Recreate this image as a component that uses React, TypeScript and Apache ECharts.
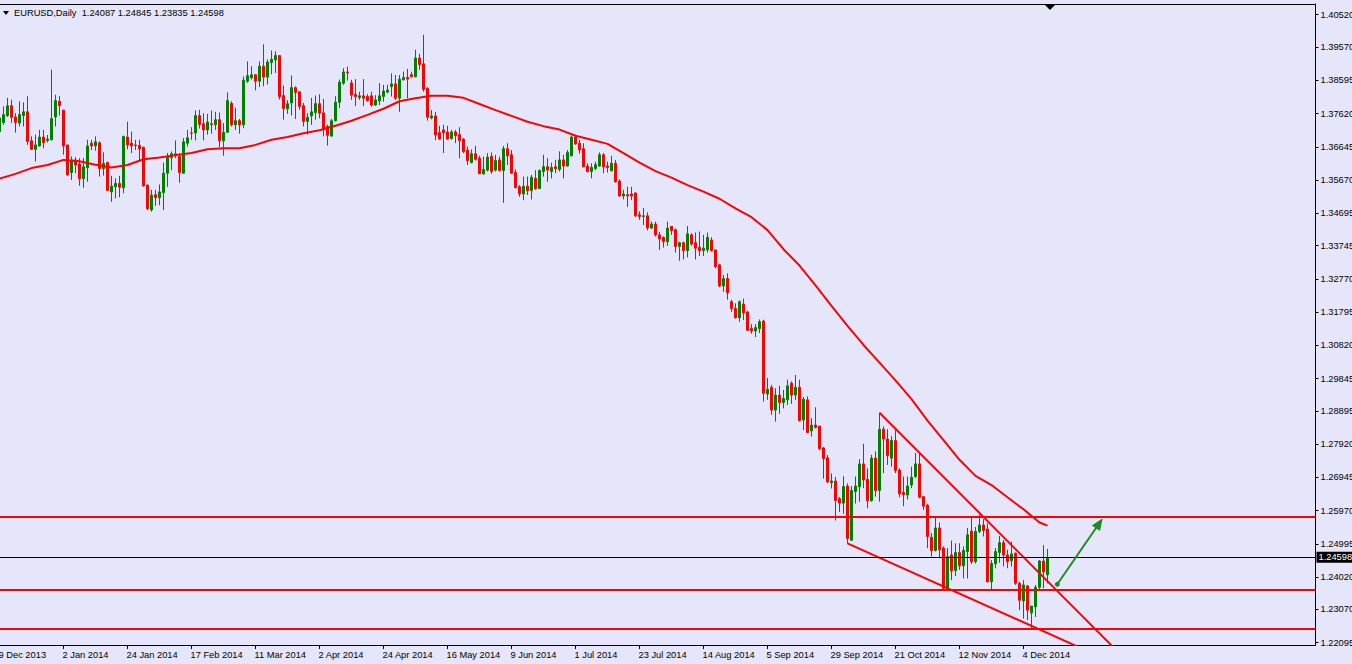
import React, { useEffect, useRef } from "react";
import * as echarts from "echarts";

const FONT = '"Liberation Sans", Arial, sans-serif';
const FONT_SIZE = 9.3;
const SYMBOL = "EURUSD";
const TIMEFRAME = "Daily";

// one label every 16 daily bars, starting at bar 0
const tickLabels = [
  "9 Dec 2013", "2 Jan 2014", "24 Jan 2014", "17 Feb 2014", "11 Mar 2014", "2 Apr 2014",
  "24 Apr 2014", "16 May 2014", "9 Jun 2014", "1 Jul 2014", "23 Jul 2014", "14 Aug 2014",
  "5 Sep 2014", "29 Sep 2014", "21 Oct 2014", "12 Nov 2014", "4 Dec 2014",
];
const LABEL_EVERY = 16;
const TOTAL_SLOTS = 330; // bars + empty chart-shift space on the right

const priceTicks = [
  1.22095, 1.2307, 1.2402, 1.24995, 1.2597, 1.26945, 1.2792, 1.28895, 1.29845, 1.3082,
  1.31795, 1.3277, 1.33745, 1.34695, 1.3567, 1.36645, 1.3762, 1.38595, 1.3957, 1.4052,
];
const Y_MIN = 1.22027;
const Y_MAX = 1.40834;

const opens = [
  1.3709, 1.3736, 1.3756, 1.3785, 1.3752, 1.3734, 1.3756, 1.3767, 1.3682, 1.3657,
  1.3667, 1.3693, 1.3683, 1.3685, 1.3752, 1.3798, 1.3772, 1.367, 1.3589, 1.3626,
  1.3614, 1.3571, 1.3603, 1.3675, 1.3667, 1.3676, 1.36, 1.3618, 1.3532, 1.3547,
  1.3557, 1.3544, 1.3693, 1.3675, 1.367, 1.3669, 1.3663, 1.3552, 1.3479, 1.3524,
  1.3515, 1.353, 1.3587, 1.3632, 1.3644, 1.3636, 1.3587, 1.3675, 1.3705, 1.3705,
  1.3756, 1.3732, 1.3714, 1.3732, 1.3729, 1.3744, 1.3682, 1.3707, 1.3792, 1.3729,
  1.3741, 1.3729, 1.3857, 1.3867, 1.3876, 1.3857, 1.3901, 1.3869, 1.3912, 1.3919,
  1.3932, 1.3815, 1.3776, 1.3793, 1.3838, 1.3826, 1.3785, 1.3739, 1.3755, 1.3765,
  1.3791, 1.3764, 1.3724, 1.3696, 1.3741, 1.3795, 1.3851, 1.3884, 1.3852, 1.3818,
  1.3809, 1.3814, 1.3812, 1.3814, 1.3787, 1.3799, 1.3812, 1.3825, 1.3841, 1.3849,
  1.3807, 1.3861, 1.3868, 1.3876, 1.387, 1.3925, 1.3908, 1.3836, 1.3749, 1.3755,
  1.3706, 1.3714, 1.3708, 1.3689, 1.3708, 1.37, 1.3687, 1.3655, 1.3618, 1.3644,
  1.3631, 1.3585, 1.3596, 1.3636, 1.3596, 1.3626, 1.3595, 1.3659, 1.3641, 1.3589,
  1.3547, 1.3526, 1.3549, 1.3536, 1.3572, 1.3542, 1.3592, 1.3606, 1.3592, 1.3606,
  1.3598, 1.3626, 1.3608, 1.3638, 1.3693, 1.3675, 1.3659, 1.3608, 1.3592, 1.3601,
  1.3608, 1.3641, 1.3608, 1.3594, 1.3616, 1.3564, 1.352, 1.3524, 1.3526, 1.3529,
  1.3465, 1.346, 1.3462, 1.3426, 1.3438, 1.3406, 1.3399, 1.3386, 1.3431, 1.3421,
  1.3372, 1.3383, 1.336, 1.3406, 1.3383, 1.337, 1.336, 1.3362, 1.3391, 1.3362,
  1.3318, 1.3256, 1.3278, 1.321, 1.319, 1.3163, 1.3203, 1.318, 1.3131, 1.3124,
  1.3131, 1.3153, 1.2939, 1.2959, 1.2892, 1.2936, 1.2914, 1.2922, 1.2971, 1.2936,
  1.2959, 1.2863, 1.2922, 1.2831, 1.2848, 1.2845, 1.2781, 1.2752, 1.2679, 1.2684,
  1.2632, 1.2619, 1.2669, 1.251, 1.2653, 1.2667, 1.2734, 1.2689, 1.2626, 1.2751,
  1.2656, 1.2836, 1.2807, 1.2751, 1.2803, 1.2716, 1.265, 1.2643, 1.2672, 1.2697,
  1.2734, 1.2638, 1.2613, 1.2519, 1.248, 1.2546, 1.2487, 1.2369, 1.2467, 1.2421,
  1.2474, 1.2435, 1.2477, 1.2537, 1.2447, 1.2536, 1.2555, 1.2543, 1.2388, 1.2441,
  1.2474, 1.2503, 1.2467, 1.245, 1.2472, 1.2384, 1.2332, 1.2376, 1.2297, 1.2315,
  1.2372, 1.2449, 1.24087,
];
const highs = [
  1.3759, 1.3783, 1.3808, 1.3803, 1.3763, 1.3798, 1.3795, 1.3813, 1.3695, 1.37,
  1.3714, 1.3714, 1.3699, 1.3891, 1.3817, 1.3813, 1.3773, 1.367, 1.3636, 1.3634,
  1.3631, 1.3631, 1.3685, 1.3685, 1.3695, 1.368, 1.3648, 1.3621, 1.3579, 1.3572,
  1.3579, 1.3697, 1.3738, 1.3709, 1.3685, 1.3685, 1.3665, 1.3554, 1.3538, 1.3538,
  1.3554, 1.3618, 1.3646, 1.3651, 1.3683, 1.3646, 1.369, 1.3714, 1.3722, 1.3771,
  1.3773, 1.3763, 1.3761, 1.3771, 1.3767, 1.3765, 1.3734, 1.3824, 1.3798, 1.3779,
  1.3746, 1.3871, 1.3915, 1.3901, 1.3877, 1.3915, 1.3965, 1.3921, 1.3947, 1.3945,
  1.3932, 1.3844, 1.3801, 1.3874, 1.3842, 1.3826, 1.3793, 1.3763, 1.3808, 1.3815,
  1.3819, 1.3805, 1.3729, 1.3746, 1.3813, 1.3862, 1.3895, 1.39, 1.3861, 1.3863,
  1.3826, 1.3863, 1.3819, 1.3826, 1.3816, 1.3851, 1.3846, 1.3846, 1.388, 1.3875,
  1.3875, 1.3885, 1.3893, 1.3885, 1.3949, 1.3937, 1.3993, 1.3839, 1.3772, 1.3767,
  1.3726, 1.3729, 1.3726, 1.3714, 1.3714, 1.3722, 1.369, 1.3665, 1.3657, 1.3667,
  1.3638, 1.3636, 1.3646, 1.3648, 1.3641, 1.3636, 1.3667, 1.3675, 1.3655, 1.3598,
  1.3552, 1.3577, 1.3577, 1.3582, 1.3596, 1.3598, 1.3641, 1.3631, 1.3618, 1.3626,
  1.3651, 1.3641, 1.3655, 1.3697, 1.37, 1.3685, 1.3675, 1.3616, 1.3616, 1.3621,
  1.3648, 1.3646, 1.3621, 1.3638, 1.3626, 1.3569, 1.3538, 1.3547, 1.3547, 1.3531,
  1.3475, 1.3485, 1.3472, 1.3445, 1.3445, 1.3415, 1.3401, 1.3445, 1.3432, 1.3425,
  1.3386, 1.3386, 1.3432, 1.3411, 1.3413, 1.3416, 1.3406, 1.3413, 1.3399, 1.3362,
  1.332, 1.3288, 1.3293, 1.3216, 1.3205, 1.3214, 1.3219, 1.3183, 1.3144, 1.3144,
  1.3158, 1.3157, 1.2986, 1.2966, 1.2956, 1.2963, 1.2951, 1.2981, 1.2976, 1.2995,
  1.2981, 1.293, 1.2932, 1.2868, 1.29, 1.2845, 1.2784, 1.276, 1.2706, 1.2696,
  1.2637, 1.2698, 1.2677, 1.2669, 1.2697, 1.2748, 1.2793, 1.2721, 1.2761, 1.2771,
  1.2884, 1.2844, 1.2836, 1.2815, 1.2839, 1.2721, 1.2697, 1.2697, 1.2726, 1.2766,
  1.2766, 1.264, 1.2617, 1.2531, 1.2578, 1.2562, 1.2492, 1.2487, 1.2509, 1.2501,
  1.2501, 1.2492, 1.2546, 1.2575, 1.2549, 1.2585, 1.2572, 1.256, 1.2452, 1.2487,
  1.2523, 1.2511, 1.2482, 1.2506, 1.2474, 1.2388, 1.2393, 1.2379, 1.2317, 1.2379,
  1.2452, 1.2496, 1.24845,
];
const lows = [
  1.3704, 1.3729, 1.3752, 1.3734, 1.3706, 1.3724, 1.3724, 1.367, 1.3655, 1.3621,
  1.3665, 1.366, 1.3677, 1.3683, 1.3724, 1.3756, 1.3641, 1.358, 1.3567, 1.3587,
  1.355, 1.3544, 1.3562, 1.3655, 1.3653, 1.3577, 1.358, 1.3535, 1.3503, 1.3513,
  1.3516, 1.3528, 1.3657, 1.3646, 1.3655, 1.3624, 1.3547, 1.3479, 1.3474, 1.3491,
  1.3493, 1.3479, 1.3547, 1.3596, 1.3631, 1.3559, 1.3585, 1.3665, 1.3685, 1.3683,
  1.3718, 1.3683, 1.37, 1.3703, 1.3714, 1.3663, 1.3638, 1.3705, 1.3724, 1.3714,
  1.3703, 1.3719, 1.3852, 1.3862, 1.383, 1.384, 1.3842, 1.3847, 1.3877, 1.3881,
  1.3803, 1.3744, 1.3761, 1.3756, 1.3746, 1.3773, 1.3724, 1.37, 1.3729, 1.3744,
  1.3748, 1.3695, 1.3668, 1.3693, 1.3739, 1.3778, 1.3846, 1.3859, 1.3802, 1.3784,
  1.3802, 1.3784, 1.3797, 1.3782, 1.3784, 1.3787, 1.3797, 1.3821, 1.3812, 1.3802,
  1.3767, 1.3859, 1.3807, 1.3868, 1.3868, 1.389, 1.3826, 1.3741, 1.3745, 1.3684,
  1.3685, 1.3646, 1.3685, 1.3685, 1.3675, 1.3631, 1.3646, 1.3611, 1.3616, 1.3624,
  1.3585, 1.3582, 1.3592, 1.3585, 1.3592, 1.3592, 1.35, 1.3611, 1.3585, 1.3542,
  1.3518, 1.3508, 1.3523, 1.351, 1.3538, 1.354, 1.3577, 1.3562, 1.3572, 1.3587,
  1.3592, 1.3572, 1.3606, 1.3636, 1.367, 1.3644, 1.3604, 1.3589, 1.3572, 1.3596,
  1.3606, 1.3587, 1.3589, 1.3592, 1.3559, 1.3518, 1.351, 1.3488, 1.3508, 1.3458,
  1.345, 1.3435, 1.3419, 1.3423, 1.3401, 1.3362, 1.3369, 1.3374, 1.3406, 1.3354,
  1.333, 1.3334, 1.334, 1.3374, 1.3334, 1.3344, 1.3344, 1.3354, 1.3357, 1.3308,
  1.3252, 1.3239, 1.3216, 1.318, 1.316, 1.3151, 1.3156, 1.3124, 1.3116, 1.3106,
  1.3118, 1.2917, 1.2922, 1.2878, 1.2858, 1.2881, 1.2897, 1.2907, 1.291, 1.2922,
  1.2858, 1.2833, 1.2824, 1.2814, 1.2838, 1.2774, 1.2691, 1.2678, 1.2662, 1.2568,
  1.2593, 1.2588, 1.25, 1.2508, 1.2618, 1.2623, 1.2663, 1.2604, 1.2623, 1.2638,
  1.2623, 1.2707, 1.2731, 1.2726, 1.2707, 1.2636, 1.261, 1.263, 1.2663, 1.2692,
  1.2633, 1.2599, 1.2487, 1.2462, 1.2477, 1.2457, 1.2366, 1.2364, 1.2393, 1.2405,
  1.2423, 1.2398, 1.2398, 1.244, 1.2442, 1.2531, 1.2521, 1.2386, 1.2364, 1.2428,
  1.2444, 1.2433, 1.2428, 1.2433, 1.2379, 1.2305, 1.228, 1.2276, 1.2251, 1.2285,
  1.2366, 1.2369, 1.23835,
];
const closes = [
  1.3749, 1.3759, 1.3785, 1.3751, 1.3736, 1.3759, 1.3767, 1.368, 1.3657, 1.367,
  1.3693, 1.3677, 1.3687, 1.3747, 1.38, 1.3785, 1.3667, 1.3582, 1.3626, 1.3611,
  1.3571, 1.3606, 1.3667, 1.3667, 1.3679, 1.3601, 1.3616, 1.3536, 1.3549, 1.3557,
  1.3546, 1.3695, 1.367, 1.3667, 1.3668, 1.3658, 1.355, 1.3483, 1.3523, 1.3515,
  1.3532, 1.3587, 1.3636, 1.3644, 1.3638, 1.3589, 1.3679, 1.3691, 1.3704, 1.3756,
  1.373, 1.3714, 1.3737, 1.373, 1.3744, 1.3682, 1.3707, 1.38, 1.3729, 1.3741,
  1.3729, 1.386, 1.3873, 1.3876, 1.3857, 1.3901, 1.3869, 1.3913, 1.3921, 1.3932,
  1.3811, 1.3777, 1.3791, 1.3838, 1.3824, 1.3783, 1.3739, 1.3751, 1.3767, 1.3791,
  1.3763, 1.3716, 1.3698, 1.3741, 1.3795, 1.3854, 1.3884, 1.3882, 1.3816, 1.3812,
  1.3814, 1.3807, 1.38, 1.3787, 1.3802, 1.3814, 1.3828, 1.3831, 1.3849, 1.3807,
  1.3863, 1.3868, 1.3863, 1.387, 1.3925, 1.3906, 1.3833, 1.3751, 1.3755, 1.3699,
  1.3687, 1.3706, 1.3687, 1.3708, 1.3697, 1.3683, 1.365, 1.3624, 1.3644, 1.3628,
  1.3585, 1.3598, 1.3634, 1.3592, 1.3624, 1.3595, 1.3659, 1.3638, 1.3587, 1.3545,
  1.3526, 1.3549, 1.3536, 1.3575, 1.3542, 1.3595, 1.3606, 1.3596, 1.3604, 1.36,
  1.3626, 1.3608, 1.3648, 1.3693, 1.3673, 1.3655, 1.3606, 1.3592, 1.3604, 1.3612,
  1.3641, 1.3606, 1.3604, 1.3616, 1.3562, 1.352, 1.3526, 1.352, 1.352, 1.3462,
  1.346, 1.3462, 1.3426, 1.3438, 1.3406, 1.3394, 1.3386, 1.3426, 1.3418, 1.3372,
  1.3383, 1.336, 1.3409, 1.3379, 1.3367, 1.336, 1.3367, 1.3399, 1.336, 1.3313,
  1.3256, 1.3278, 1.3236, 1.319, 1.3163, 1.321, 1.3177, 1.3126, 1.3124, 1.3134,
  1.3151, 1.2941, 1.2953, 1.2892, 1.2936, 1.2914, 1.2926, 1.2963, 1.2936, 1.2959,
  1.2861, 1.2924, 1.2826, 1.2848, 1.2841, 1.2779, 1.275, 1.2681, 1.2684, 1.2627,
  1.2619, 1.2668, 1.2515, 1.2656, 1.2669, 1.2734, 1.2687, 1.2626, 1.2751, 1.2656,
  1.2836, 1.2807, 1.2758, 1.2803, 1.2715, 1.2646, 1.2644, 1.2669, 1.2695, 1.2734,
  1.2636, 1.261, 1.2521, 1.248, 1.2546, 1.2482, 1.2369, 1.2462, 1.242, 1.2474,
  1.2435, 1.248, 1.2526, 1.2447, 1.2536, 1.2555, 1.2539, 1.2388, 1.2442, 1.2477,
  1.2503, 1.2467, 1.2447, 1.247, 1.2384, 1.2334, 1.2379, 1.2305, 1.2317, 1.2372,
  1.2449, 1.2417, 1.24598,
];

// moving average (bar index, price)
const maIndex = [
  0, 4, 8, 12, 16, 20, 24, 28, 32, 36, 40, 44, 48, 52, 56, 60, 64, 68, 72, 76, 80, 84, 88, 92,
  96, 100, 104, 108, 112, 116, 120, 124, 128, 132, 136, 140, 144, 148, 152, 156, 160, 164, 168,
  172, 176, 180, 184, 188, 192, 196, 200, 204, 208, 212, 216, 220, 224, 228, 232, 236, 240, 244,
  248, 252, 256, 260, 262,
];
const maValues = [
  1.3571, 1.3585, 1.3602, 1.3611, 1.3626, 1.3622, 1.3612, 1.3604, 1.3611, 1.3628, 1.3633, 1.364,
  1.3646, 1.3657, 1.366, 1.366, 1.367, 1.3685, 1.3693, 1.3704, 1.3713, 1.3726, 1.3741, 1.3758,
  1.3776, 1.3798, 1.3807, 1.3814, 1.3814, 1.3808, 1.379, 1.3772, 1.3755, 1.3738, 1.3725, 1.3715,
  1.3697, 1.3685, 1.3673, 1.3646, 1.3618, 1.3593, 1.3574, 1.3552, 1.3533, 1.3512, 1.3484, 1.3458,
  1.342, 1.3364, 1.3316, 1.3258, 1.3198, 1.3139, 1.3083, 1.3031, 1.2979, 1.2924, 1.2861, 1.2804,
  1.2746, 1.2699, 1.2672, 1.2636, 1.2601, 1.2562, 1.2553,
];

// drawn objects: horizontal levels, channel lines [bar, price], arrow
const levelLines = [1.2579, 1.2365, 1.225];
const upperChannel = [[220, 1.28843], [280, 1.2178]];
const lowerChannel = [[212, 1.25011], [280, 1.21428]];
const arrowFrom = [264.45, 1.23808];
const arrowTo = [274.95, 1.25598];

const BULL = "#008000";
const BEAR = "#FF0000";

export default function App() {
  const ref = useRef<HTMLDivElement>(null);

  useEffect(() => {
    if (!ref.current) return;
    const chart = echarts.init(ref.current, null, { renderer: "svg" });
    const last = opens.length - 1;
    const lastClose = closes[last];
    const slots = Array.from({ length: TOTAL_SLOTS }, (_, i) => String(i));
    const isLabelSlot = (i: number) => i % LABEL_EVERY === 0 && i / LABEL_EVERY < tickLabels.length;
    const candleData = opens.map((o, i) => [o, closes[i], lows[i], highs[i]]);
    const maData = maIndex.map((k, i) => [k, maValues[i]]);
    const header = `${SYMBOL},${TIMEFRAME}  ${opens[last].toFixed(5)} ${highs[last].toFixed(5)} ${lows[last].toFixed(5)} ${lastClose.toFixed(5)}`;

    const option: any = {
      animation: false,
      backgroundColor: "#E6E6FA",
      textStyle: { fontFamily: FONT },
      grid: {
        left: -0.5,
        right: 36.5,
        top: 4,
        bottom: 19,
        containLabel: false,
        outerBoundsMode: "none",
      },
      xAxis: [
        {
          type: "category",
          data: slots,
          boundaryGap: false,
          axisLine: { show: true, onZero: false, lineStyle: { color: "#000", width: 1 } },
          axisTick: {
            show: true,
            length: 4,
            interval: (i: number) => isLabelSlot(i),
            lineStyle: { color: "#000" },
          },
          axisLabel: {
            show: true,
            interval: (i: number) => isLabelSlot(i),
            formatter: (_v: string, i: number) => tickLabels[i / LABEL_EVERY] ?? "",
            align: "left",
            padding: [0, 0, 0, -1],
            margin: 5,
            color: "#000",
            fontSize: FONT_SIZE,
            fontFamily: FONT,
          },
          splitLine: { show: false },
        },
        {
          type: "value",
          min: 0,
          max: TOTAL_SLOTS - 1,
          show: false,
          splitLine: { show: false },
        },
      ],
      yAxis: {
        type: "value",
        position: "right",
        min: Y_MIN,
        max: Y_MAX,
        splitLine: { show: false },
        axisLine: { show: true, onZero: false, lineStyle: { color: "#000", width: 1 } },
        axisTick: { show: true, length: 3, customValues: priceTicks, lineStyle: { color: "#000" } },
        axisLabel: {
          customValues: priceTicks,
          formatter: (v: number) => v.toFixed(5),
          color: "#000",
          fontSize: FONT_SIZE,
          fontFamily: FONT,
          margin: 5,
        },
      },
      graphic: [
        {
          type: "line",
          shape: { x1: 0, y1: 4.5, x2: 1316, y2: 4.5 },
          style: { stroke: "#000", lineWidth: 1 },
          silent: true,
        },
        {
          type: "polygon",
          shape: { points: [[3, 11], [9, 11], [6, 15]] },
          style: { fill: "#000" },
          silent: true,
        },
        {
          type: "text",
          x: 14,
          y: 13,
          style: { text: header, fill: "#000", font: `${FONT_SIZE}px ${FONT}`, verticalAlign: "middle" },
          silent: true,
        },
        {
          type: "polygon",
          shape: { points: [[1045, 5], [1055, 5], [1050, 10]] },
          style: { fill: "#000" },
          silent: true,
        },
      ],
      series: [
        {
          type: "candlestick",
          xAxisIndex: 0,
          data: candleData,
          barWidth: 2,
          z: 2,
          itemStyle: {
            color: BULL,
            color0: BEAR,
            borderColor: BULL,
            borderColor0: BEAR,
            borderColorDoji: BEAR,
            borderWidth: 1,
          },
          markLine: {
            silent: true,
            symbol: "none",
            animation: false,
            precision: 5,
            label: { show: false },
            data: [
              ...levelLines.map((v) => ({
                yAxis: v,
                lineStyle: { color: BEAR, width: 2, type: "solid" },
                label: { show: false },
              })),
              {
                yAxis: lastClose,
                lineStyle: { color: "#000", width: 1, type: "solid" },
                label: {
                  show: true,
                  position: "end",
                  formatter: lastClose.toFixed(5),
                  backgroundColor: "#000",
                  color: "#fff",
                  padding: [1, 3, 1, 2],
                  fontSize: FONT_SIZE,
                  fontFamily: FONT,
                  distance: 1,
                },
              },
            ],
          },
        },
        {
          type: "line",
          xAxisIndex: 1,
          data: maData,
          showSymbol: false,
          symbol: "none",
          z: 3,
          lineStyle: { color: BEAR, width: 2 },
          silent: true,
        },
        {
          type: "line",
          xAxisIndex: 1,
          data: upperChannel,
          showSymbol: false,
          symbol: "none",
          clip: true,
          z: 4,
          lineStyle: { color: BEAR, width: 2 },
          silent: true,
        },
        {
          type: "line",
          xAxisIndex: 1,
          data: lowerChannel,
          showSymbol: false,
          symbol: "none",
          clip: true,
          z: 4,
          lineStyle: { color: BEAR, width: 2 },
          silent: true,
          markLine: {
            silent: true,
            animation: false,
            precision: 5,
            label: { show: false },
            lineStyle: { color: "#1E8C1E", width: 2, type: "solid" },
            data: [
              [
                { coord: arrowFrom, symbol: "circle", symbolSize: 5 },
                { coord: arrowTo, symbol: "triangle", symbolSize: [10, 12] },
              ],
            ],
          },
        },
      ],
    };

    chart.setOption(option);
    return () => chart.dispose();
  }, []);

  return (
    <div
      ref={ref}
      style={{ position: "fixed", left: 0, top: 0, width: 1352, height: 664, background: "#E6E6FA" }}
    />
  );
}
